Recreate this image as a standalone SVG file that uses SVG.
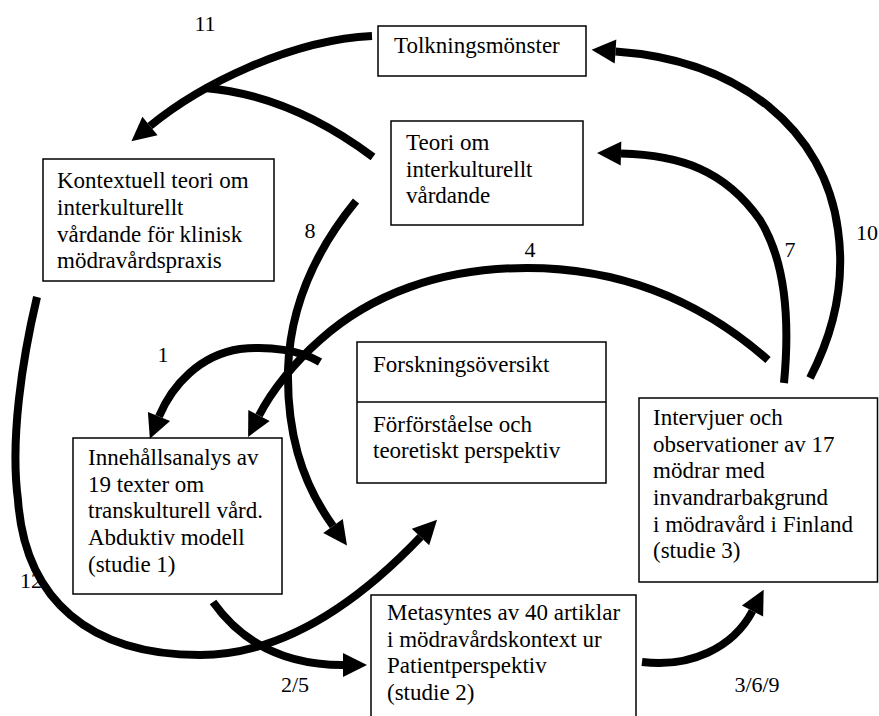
<svg xmlns="http://www.w3.org/2000/svg" width="879" height="716" viewBox="0 0 879 716">
<style>
  .box{fill:#fff;stroke:#000;stroke-width:1.5}
  .t{font-family:"Liberation Serif","Times New Roman",serif;font-size:23px;fill:#000}
  .lbl{font-family:"Liberation Serif","Times New Roman",serif;font-size:22px;fill:#000;text-anchor:middle}
  .c{fill:none;stroke:#000;stroke-width:8;stroke-linecap:butt}
</style>
<defs>
  <marker id="ah" markerUnits="userSpaceOnUse" viewBox="0 -13 26 26" refX="0" refY="0" markerWidth="26" markerHeight="26" orient="auto" overflow="visible">
    <path d="M0,-12 L24,0 L0,12 Z" fill="#000"/>
  </marker>
</defs>
<rect width="879" height="716" fill="#fff"/>

<g id="n-tolk">
  <rect class="box" x="378" y="26" width="208" height="50"/>
  <text class="t" x="394" y="53">Tolkningsmönster</text>
</g>
<g id="n-teori">
  <rect class="box" x="391" y="121" width="192" height="104"/>
  <text class="t" x="406" y="150">Teori om</text>
  <text class="t" x="406" y="177">interkulturellt</text>
  <text class="t" x="406" y="203">vårdande</text>
</g>
<g id="n-kontext">
  <rect class="box" x="43" y="159" width="231" height="122"/>
  <text class="t" x="57" y="188">Kontextuell teori om</text>
  <text class="t" x="57" y="215">interkulturellt</text>
  <text class="t" x="57" y="242">vårdande för klinisk</text>
  <text class="t" x="57" y="268">mödravårdspraxis</text>
</g>
<g id="n-forsk">
  <rect class="box" x="357" y="342" width="249" height="141"/>
  <line x1="357" y1="402" x2="606" y2="402" stroke="#000" stroke-width="1.5"/>
  <text class="t" x="373" y="372">Forskningsöversikt</text>
  <text class="t" x="373" y="432">Förförståelse och</text>
  <text class="t" x="373" y="458">teoretiskt perspektiv</text>
</g>
<g id="n-inneh">
  <rect class="box" x="73" y="438" width="209" height="156"/>
  <text class="t" x="88" y="465">Innehållsanalys av</text>
  <text class="t" x="88" y="492">19 texter om</text>
  <text class="t" x="88" y="518">transkulturell vård.</text>
  <text class="t" x="88" y="545">Abduktiv modell</text>
  <text class="t" x="88" y="572">(studie 1)</text>
</g>
<g id="n-meta">
  <rect class="box" x="371" y="595" width="265" height="135"/>
  <text class="t" x="387" y="620">Metasyntes av 40 artiklar</text>
  <text class="t" x="387" y="647">i mödravårdskontext ur</text>
  <text class="t" x="387" y="673">Patientperspektiv</text>
  <text class="t" x="387" y="700">(studie 2)</text>
</g>
<g id="n-interv">
  <rect class="box" x="639" y="398" width="238.5" height="184"/>
  <text class="t" x="653" y="425">Intervjuer och</text>
  <text class="t" x="653" y="452">observationer av 17</text>
  <text class="t" x="653" y="478">mödrar med</text>
  <text class="t" x="653" y="505">invandrarbakgrund</text>
  <text class="t" x="653" y="532">i mödravård i Finland</text>
  <text class="t" x="653" y="558">(studie 3)</text>
</g>

<g id="connectors">
  <path class="c" d="M372,36 C290,40 200,85 150,126" marker-end="url(#ah)"/>
  <path class="c" d="M373,157 Q290,95 205,88"/>
  <path class="c" d="M356,201 C320,245 290,300 288,370 C287,430 300,480 333,526" marker-end="url(#ah)"/>
  <path class="c" d="M320,362 C300,350 270,346 240,349 C200,355 172,385 159,416.5" marker-end="url(#ah)"/>
  <path class="c" d="M768,360 C700,300 620,268 527,268 C440,268 370,295 320,340 C295,362 272,390 259,415.5" marker-end="url(#ah)"/>
  <path class="c" d="M784,383 C790,320 785,260 760,220 C725,170 680,155 621,153.5" marker-end="url(#ah)"/>
  <path class="c" d="M810,378 C835,330 845,280 838,230 C825,130 740,60 615.5,51.5" marker-end="url(#ah)"/>
  <path class="c" d="M37,297 C22,360 10,440 18,500 C25,600 90,655 200,655 C290,655 368,592 420.5,537" marker-end="url(#ah)"/>
  <path class="c" d="M213,602 C240,640 280,665 343,665" marker-end="url(#ah)"/>
  <path class="c" d="M642,662 C690,668 733,648 752.5,611" marker-end="url(#ah)"/>
</g>

<g id="labels">
  <text class="lbl" x="205" y="31">11</text>
  <text class="lbl" x="310" y="238">8</text>
  <text class="lbl" x="530" y="257">4</text>
  <text class="lbl" x="790" y="257">7</text>
  <text class="lbl" x="867" y="240">10</text>
  <text class="lbl" x="163" y="362">1</text>
  <text class="lbl" x="31" y="588">12</text>
  <text class="lbl" x="295" y="692">2/5</text>
  <text class="lbl" x="757" y="692">3/6/9</text>
</g>
</svg>
